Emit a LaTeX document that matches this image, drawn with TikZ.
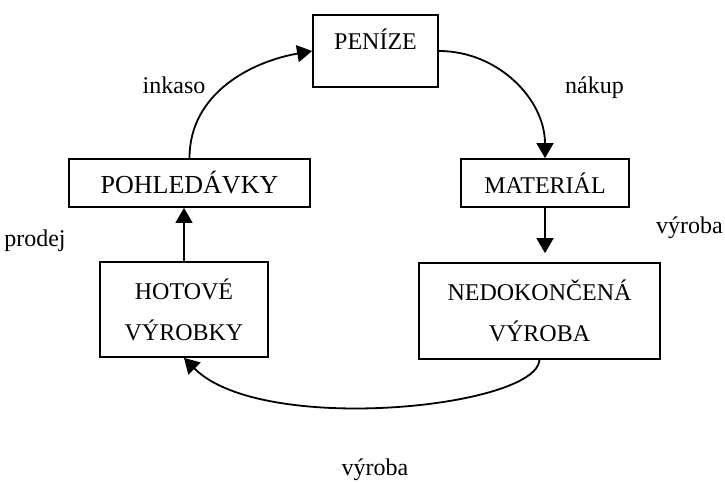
\documentclass[tikz,border=0pt]{standalone}
\usepackage{fontspec}
\setmainfont{Liberation Serif}
\usepackage{tikz}
\usetikzlibrary{positioning,arrows.meta,calc}

\begin{document}
\begin{tikzpicture}[x=1pt, y=-1pt,
        krabice/.style={draw, line width=1.8pt, inner sep=0pt, align=center,
            font=\fontsize{24}{41}\selectfont},
        popis/.style={anchor=base, font=\fontsize{24}{29}\selectfont},
        sipka/.style={line width=1.8pt, -{Triangle[length=15pt, width=17pt]}}]
        \useasboundingbox (0,0) rectangle (725,482);
        % Stavy kolobehu penez
        \node[krabice, minimum width=125pt, minimum height=72pt,
            text height=17pt, text depth=21pt] (penize) at (375.5,51) {PENÍZE};
        \node[krabice, minimum width=241pt, minimum height=48pt,
            font=\fontsize{26}{31}\selectfont] (pohledavky) at (189.5,183) {POHLEDÁVKY};
        \node[krabice, minimum width=168pt, minimum height=48pt] (material) at (545,183) {MATERIÁL};
        \node[krabice, minimum width=168pt, minimum height=95pt] (hotove) at (184,309.5) {HOTOVÉ\\VÝROBKY};
        \node[krabice, minimum width=241pt, minimum height=96pt] (nedokoncena) at (539.5,311) {NEDOKONČENÁ\\VÝROBA};
        % Prechody mezi stavy
        \draw[sipka] (pohledavky.north) to[out=90, in=190] (penize.west);
        \draw[sipka] (penize.east) to[out=0, in=90] (material.north);
        \draw[sipka, shorten >=9pt] (material.south) -- (material.south |- nedokoncena.north);
        \draw[sipka] (nedokoncena.south) .. controls +(-3,48) and +(77,78) .. (hotove.south);
        \draw[sipka] (hotove.north) -- (hotove.north |- pohledavky.south);
        % Popisky
        \node[popis] (inkaso) at (174,93) {inkaso};
        \node[popis] (nakup) at (594.5,93) {nákup};
        \node[popis] (vyrobaA) at (689.5,233) {výroba};
        \node[popis] (prodej) at (35,246) {prodej};
        \node[popis] (vyrobaB) at (375,475) {výroba};
\end{tikzpicture}
\end{document}
